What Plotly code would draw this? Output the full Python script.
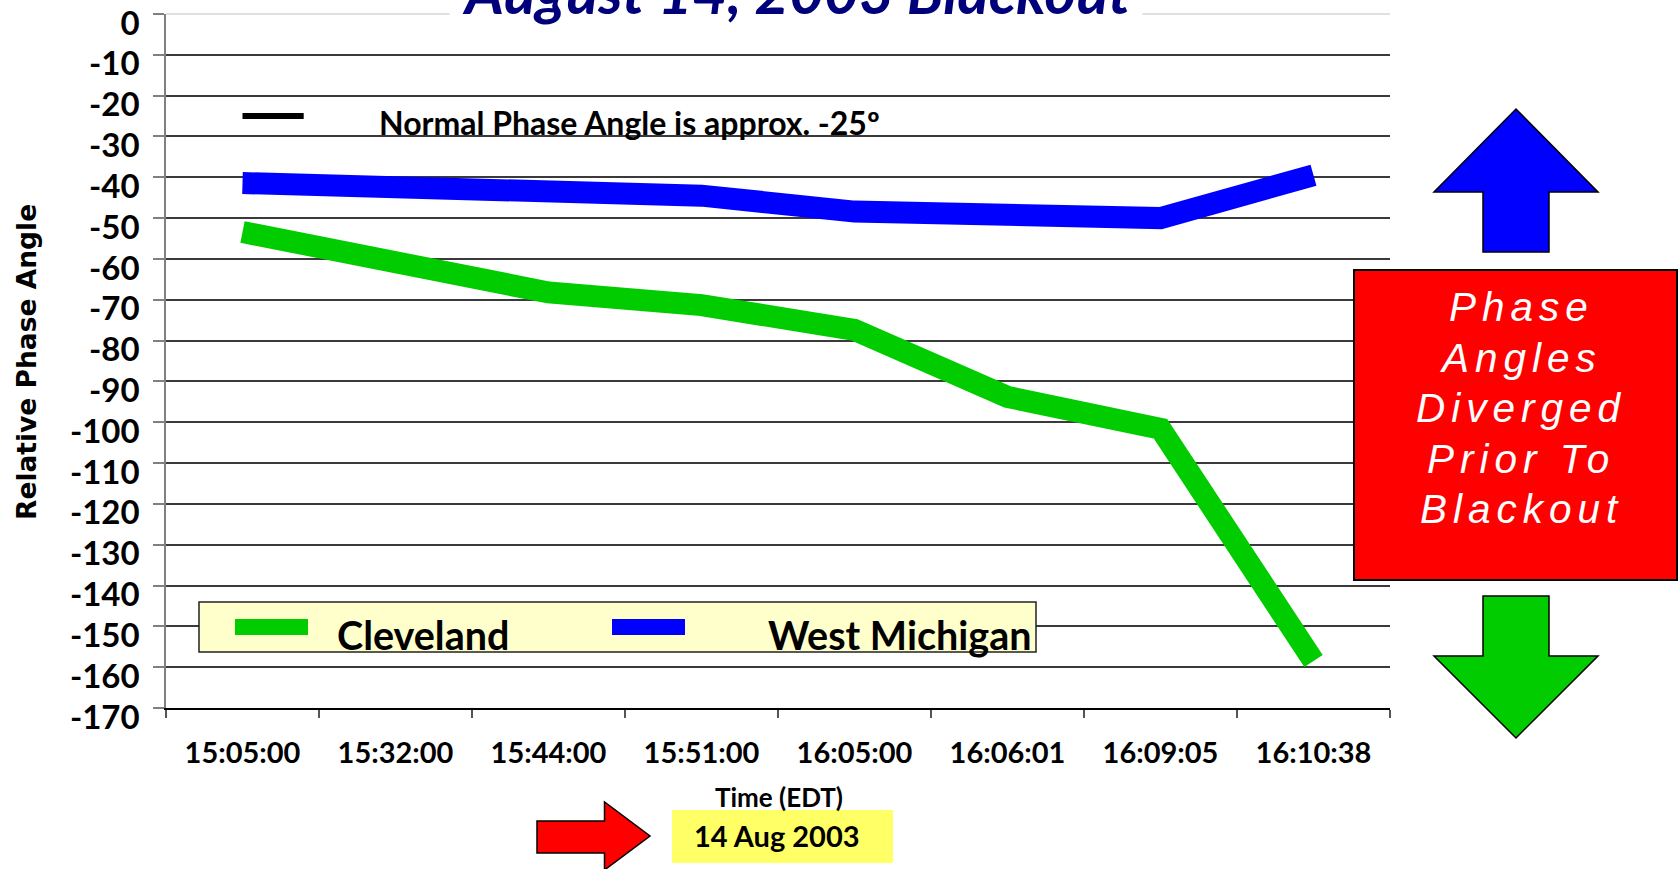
import plotly.graph_objects as go

# ---------------- data ----------------
times = ["15:05:00", "15:32:00", "15:44:00", "15:51:00",
         "16:05:00", "16:06:01", "16:09:05", "16:10:38"]
cleveland = [-53.4, -60.3, -68.2, -71.3, -77.4, -93.8, -101.6, -158.5]
west_michigan = [-41.4, -42.8, -43.9, -44.5, -48.4, -49.7, -50.0, -39.5]
series_names = ["Cleveland", "West Michigan"]
series_colors = ["#00CC00", "#0000FF"]
y_ticks = list(range(0, -171, -10))
normal_angle = -25
title_text = "August 14, 2003 Blackout"
note_text = "Normal Phase Angle is approx. -25º"
box_lines = ["Phase", "Angles", "Diverged", "Prior To", "Blackout"]
date_text = "14 Aug 2003"
x_title = "Time (EDT)"
y_title = "Relative Phase Angle"

# ---------------- layout geometry (pixels) ----------------
W, H = 1678, 869
L, R, T, B = 166, 1390, 14, 708
PW, PH = R - L, B - T


def px(X):
    return (X - L) / PW


def py(Y):
    return (B - Y) / PH


def path(points):
    return "M " + " L ".join(f"{px(x):.5f},{py(y):.5f}" for x, y in points) + " Z"


FONT = "Lato, 'Open Sans', sans-serif"

fig = go.Figure()
for name, vals, col in zip(series_names, [cleveland, west_michigan], series_colors):
    fig.add_trace(go.Scatter(x=times, y=vals, mode="lines", name=name,
                             line=dict(color=col, width=22), showlegend=False))

shapes = []
annotations = []

# normal-angle dash
shapes.append(dict(type="line", xref="x", yref="y", x0=0, x1=0.4,
                   y0=normal_angle, y1=normal_angle,
                   line=dict(color="black", width=6)))
annotations.append(dict(text=note_text, xref="paper", yref="paper",
                        x=px(377), y=py(123), xanchor="left", yanchor="middle",
                        showarrow=False,
                        font=dict(family=FONT, size=32, color="black", weight="bold")))

# title
annotations.append(dict(text=title_text, xref="paper", yref="paper",
                        x=px(796), y=py(40), xanchor="center", yanchor="bottom",
                        showarrow=False, bgcolor="white", borderpad=12,
                        font=dict(family=FONT, size=60, color="#00007A",
                                  weight="bold", style="italic")))

# legend box
shapes.append(dict(type="rect", xref="paper", yref="paper",
                   x0=px(199), x1=px(1036), y0=py(652), y1=py(602),
                   fillcolor="#FFFFCC", line=dict(color="#222222", width=1.5)))
sw_x = [235, 612]
tx_x = [337, 768]
for name, col, sx, tx in zip(series_names, series_colors, sw_x, tx_x):
    shapes.append(dict(type="rect", xref="paper", yref="paper",
                       x0=px(sx), x1=px(sx + 73), y0=py(635), y1=py(619),
                       fillcolor=col, line=dict(width=0)))
    annotations.append(dict(text=name, xref="paper", yref="paper",
                            x=px(tx - 2), y=py(634), xanchor="left", yanchor="middle",
                            showarrow=False,
                            font=dict(family=FONT, size=39.5, color="black", weight="bold")))

# red box with message
shapes.append(dict(type="rect", xref="paper", yref="paper",
                   x0=px(1354), x1=px(1677), y0=py(580), y1=py(270),
                   fillcolor="#FF0000", line=dict(color="black", width=2)))
line_y = [306.5, 357.5, 408, 459, 509.5]
for txt, yy in zip(box_lines, line_y):
    annotations.append(dict(text=f'<span style="letter-spacing:6px">{txt}</span>',
                            xref="paper", yref="paper", x=px(1521), y=py(yy),
                            xanchor="center", yanchor="middle", showarrow=False,
                            font=dict(family="'Liberation Sans', Arial, sans-serif",
                                      size=40.5, color="white", style="italic")))

# up arrow (blue)
shapes.append(dict(type="path", xref="paper", yref="paper",
                   path=path([(1516, 109), (1598, 192), (1549, 192), (1549, 252),
                              (1483, 252), (1483, 192), (1434, 192)]),
                   fillcolor="#0000FF", line=dict(color="black", width=1.5)))
# down arrow (green)
shapes.append(dict(type="path", xref="paper", yref="paper",
                   path=path([(1483, 596), (1549, 596), (1549, 656), (1598, 656),
                              (1516, 738), (1434, 656), (1483, 656)]),
                   fillcolor="#00CC00", line=dict(color="black", width=1.5)))
# red right arrow
shapes.append(dict(type="path", xref="paper", yref="paper",
                   path=path([(537, 821), (604.5, 821), (604.5, 802), (650, 836),
                              (604.5, 870), (604.5, 853), (537, 853)]),
                   fillcolor="#FF0000", line=dict(color="black", width=1.5)))
# yellow date box
shapes.append(dict(type="rect", xref="paper", yref="paper",
                   x0=px(672), x1=px(893), y0=py(863), y1=py(810),
                   fillcolor="#FFFF66", line=dict(width=0)))
annotations.append(dict(text=date_text, xref="paper", yref="paper",
                        x=px(776.5), y=py(836), xanchor="center", yanchor="middle",
                        showarrow=False,
                        font=dict(family=FONT, size=29, color="black", weight="bold")))

# y axis title
annotations.append(dict(text=y_title, xref="paper", yref="paper",
                        x=px(26), y=py(362), xanchor="center", yanchor="middle",
                        textangle=-90, showarrow=False,
                        font=dict(family="'DejaVu Sans', sans-serif", size=26.5,
                                  color="black", weight="bold")))
# x axis title
annotations.append(dict(text=x_title, xref="paper", yref="paper",
                        x=px(779), y=py(797), xanchor="center", yanchor="middle",
                        showarrow=False,
                        font=dict(family=FONT, size=26, color="black", weight="bold")))

fig.update_layout(
    width=W, height=H,
    margin=dict(l=L, r=W - R, t=T, b=H - B, pad=0, autoexpand=False),
    paper_bgcolor="white", plot_bgcolor="white",
    shapes=shapes, annotations=annotations,
    showlegend=False,
    xaxis=dict(type="category", range=[-0.5, 7.5], tickson="boundaries",
               automargin=False,
               showgrid=False, showline=True, linecolor="black", linewidth=1.5,
               ticks="outside", ticklen=8, tickcolor="#555555", tickwidth=1.5,
               ticklabelstandoff=18,
               tickfont=dict(family=FONT, size=29, color="black", weight="bold")),
    yaxis=dict(range=[-170, 0], tickvals=y_ticks, ticktext=[str(v) for v in y_ticks],
               automargin=False,
               showgrid=True, gridcolor="#3a3a3a", gridwidth=1.5,
               zeroline=True, zerolinecolor="#e0e0e0", zerolinewidth=2,
               showline=True, linecolor="#808080", linewidth=1.5,
               ticks="outside", ticklen=11, tickcolor="#808080", tickwidth=1.5,
               ticklabelstandoff=7, ticklabelshift=9, ticklabeloverflow="allow",
               tickfont=dict(family=FONT, size=33, color="black", weight="bold")),
)

fig.write_html("out.html", config={"displayModeBar": False},
               post_script="document.body.style.margin='0';")
